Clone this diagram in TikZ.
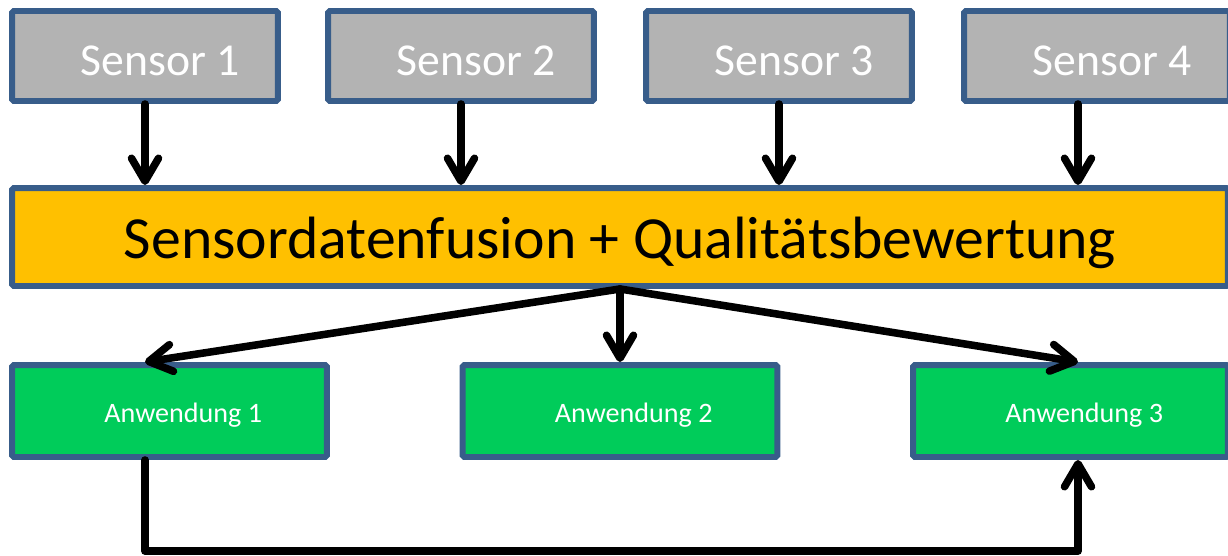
\documentclass[tikz,border=0pt]{standalone}
\usepackage{fontspec}
\setmainfont{Carlito}
\usetikzlibrary{arrows.meta,positioning,calc}

\definecolor{rim}{HTML}{385D8A}
\definecolor{sensgray}{HTML}{B3B3B3}
\definecolor{fusionorange}{HTML}{FFC000}
\definecolor{appgreen}{HTML}{00CC5A}

\begin{document}
\begin{tikzpicture}[
    x=0.02cm, y=-0.02cm,
    box/.style={draw=rim, line width=3.4pt, rounded corners=1pt, inner sep=0pt, text depth=0pt},
    sensor/.style={box, fill=sensgray, minimum width=5.32cm, minimum height=1.8cm,
        text=white, text height=22pt, font=\fontsize{26}{30}\selectfont,
        execute at begin node={\hspace*{6mm}}},
    fusion/.style={box, fill=fusionorange, minimum width=24.32cm, minimum height=1.96cm,
        text height=25pt, font=\fontsize{34}{40}\selectfont},
    app/.style={box, fill=appgreen, minimum width=6.3cm, minimum height=1.84cm,
        text=white, text height=13pt, font=\fontsize{16}{19}\selectfont,
        execute at begin node={\hspace*{5.5mm}}},
    flow/.style={line width=4.3pt, line cap=round, line join=round,
        -{Straight Barb[length=4.6mm, width=5.4mm, round]}}
]
    \useasboundingbox (0,0) rectangle (1228,555);

    \node[sensor] (sens1) at (145,56) {Sensor 1};
    \node[sensor] (sens2) at (461,56) {Sensor 2};
    \node[sensor] (sens3) at (779,56) {Sensor 3};
    \node[sensor] (sens4) at (1097,56) {Sensor 4};

    \node[fusion] (fusion) at (620,237) {Sensordatenfusion + Qualitätsbewertung};

    \node[app] (app1) at (169.5,411) {Anwendung 1};
    \node[app] (app2) at (620,411) {Anwendung 2};
    \node[app] (app3) at (1070.5,411) {Anwendung 3};

    % column of the right-hand arrows
    \coordinate (rcol) at (1078,0);

    \draw[flow] (sens1.south) -- (fusion.north -| sens1.south);
    \draw[flow] (sens2.south) -- (fusion.north -| sens2.south);
    \draw[flow] (sens3.south) -- (fusion.north -| sens3.south);
    \draw[flow] (sens4.south -| rcol) -- (fusion.north -| rcol);

    \draw[flow] (fusion.south) -- (app1.north -| sens1.south);
    \draw[flow] (fusion.south) -- (app2.north);
    \draw[flow] (fusion.south) -- (app3.north -| rcol);

    \draw[flow] (app1.south -| sens1.south) -- ++(0,91) -| (app3.south -| rcol);
\end{tikzpicture}
\end{document}
